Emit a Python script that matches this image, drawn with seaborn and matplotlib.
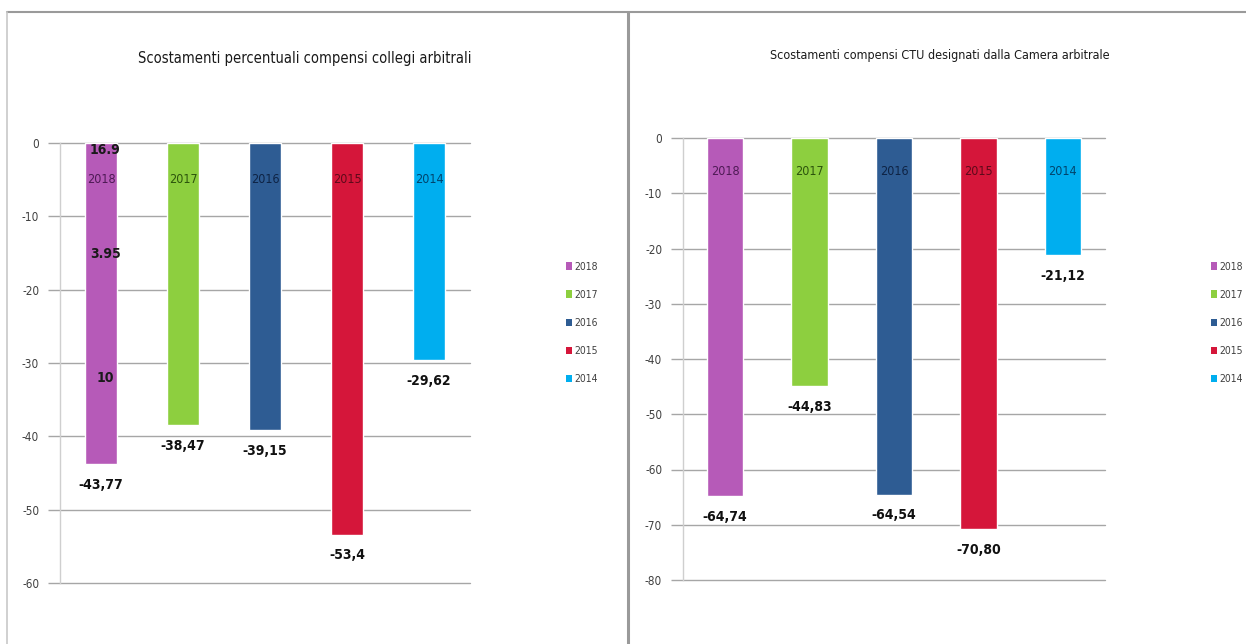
import matplotlib
matplotlib.use('Agg')
import matplotlib.pyplot as plt
import seaborn as sns
import pandas as pd
from matplotlib.patches import Patch
from matplotlib.lines import Line2D

# ---------------- data ----------------
anni = ['2018', '2017', '2016', '2015', '2014']
colori = ['#B65AB8', '#8DCF3F', '#2E5C93', '#D5163A', '#00AEEF']
colori_etichette = ['#4E1A55', '#2C540C', '#0E2344', '#5E0A1A', '#00446C']

titolo_collegi = 'Scostamenti percentuali compensi collegi arbitrali'
collegi = [-43.77, -38.47, -39.15, -53.4, -29.62]
collegi_lbl = ['-43,77', '-38,47', '-39,15', '-53,4', '-29,62']
collegi_ticks = [0, -10, -20, -30, -40, -50, -60]

titolo_ctu = 'Scostamenti compensi CTU designati dalla Camera arbitrale'
ctu = [-64.74, -44.83, -64.54, -70.80, -21.12]
ctu_lbl = ['-64,74', '-44,83', '-64,54', '-70,80', '-21,12']
ctu_ticks = [0, -10, -20, -30, -40, -50, -60, -70, -80]

# stray labels on the 2018 bar of the first chart
extra_txt = ['16.9', '3.95', '10']
extra_val = [-1.0, -15.1, -32.0]

# ---------------- style ----------------
sns.set_theme(style='white')
plt.rcParams['font.family'] = ['Liberation Sans Narrow', 'DejaVu Sans']
plt.rcParams['font.stretch'] = 'condensed'

W, H = 1246, 644
fig = plt.figure(figsize=(W / 100, H / 100), dpi=100)
fig.patch.set_facecolor('white')


def px_axes(x0, y_top, x1, y_bot):
    return fig.add_axes([x0 / W, 1 - y_bot / H, (x1 - x0) / W, (y_bot - y_top) / H])


def draw(ax, vals, lbls, ticks, width, ylow, lbl_y):
    df = pd.DataFrame({'anno': anni, 'valore': vals})
    sns.barplot(data=df, x='anno', y='valore', hue='anno', order=anni,
                hue_order=anni, palette=colori, dodge=False, width=width,
                legend=False, ax=ax, saturation=1, zorder=2)
    ax.set_xlim(-0.5, len(anni) - 0.5)
    ax.set_ylim(ylow, 0)
    for t in ticks:
        ax.axhline(t, color='#a6a6a6', lw=1.0, zorder=0, clip_on=False)
    for s in ['top', 'right', 'bottom']:
        ax.spines[s].set_visible(False)
    ax.spines['left'].set_color('#cfcfcf')
    ax.spines['left'].set_linewidth(1.0)
    ax.set_yticks(ticks)
    ax.set_yticklabels([str(t) for t in ticks], fontsize=8.5, color='#404040')
    ax.tick_params(axis='y', length=9, width=1, color='#a6a6a6', pad=6, left=True)
    ax.set_xticks([])
    ax.set_xlabel('')
    ax.set_ylabel('')
    for i, (v, l) in enumerate(zip(vals, lbls)):
        ax.annotate(l, (i, v), xytext=(0, -15), textcoords='offset points',
                    ha='center', va='center', fontsize=10, color='#111111',
                    fontweight='semibold')
        ax.text(i, lbl_y, anni[i], ha='center', va='center', fontsize=9,
                color=colori_etichette[i])


ax1 = px_axes(60, 143, 470, 583)
draw(ax1, collegi, collegi_lbl, collegi_ticks, 0.40, -60, -5.0)
for t, v in zip(extra_txt, extra_val):
    ax1.text(0.05, v, t, ha='center', va='center', fontsize=10,
             fontweight='bold', color='#1a1a1a', zorder=5)

ax2 = px_axes(683, 138, 1105, 580)
draw(ax2, ctu, ctu_lbl, ctu_ticks, 0.43, -80, -6.0)

fig.text(305 / W, 1 - 58 / H, titolo_collegi, ha='center', va='center',
         fontsize=10.5, color='#1a1a1a')
fig.text(940 / W, 1 - 55 / H, titolo_ctu, ha='center', va='center',
         fontsize=9.0, color='#1a1a1a')

handles = [Patch(facecolor=c, edgecolor='none', label=a) for a, c in zip(anni, colori)]
for xpos in (566, 1211):
    fig.legend(handles=handles, loc='center left',
               bbox_to_anchor=(xpos / W, 1 - 323 / H), frameon=False,
               borderaxespad=0, borderpad=0,
               fontsize=7.5, handlelength=0.6, handleheight=0.7,
               handletextpad=0.25, labelspacing=1.75, labelcolor='#404040')

# panel borders
border = '#9a9a9a'
fig.add_artist(Line2D([7 / W, 1], [1 - 12 / H, 1 - 12 / H], color=border, lw=1.5,
                      transform=fig.transFigure))
fig.add_artist(Line2D([7 / W, 7 / W], [0, 1 - 12 / H], color='#c8c8c8', lw=1.2,
                      transform=fig.transFigure))
fig.add_artist(Line2D([628 / W, 628 / W], [0, 1 - 12 / H], color=border, lw=2.2,
                      transform=fig.transFigure))

fig.savefig('out.png', dpi=100, facecolor='white')
